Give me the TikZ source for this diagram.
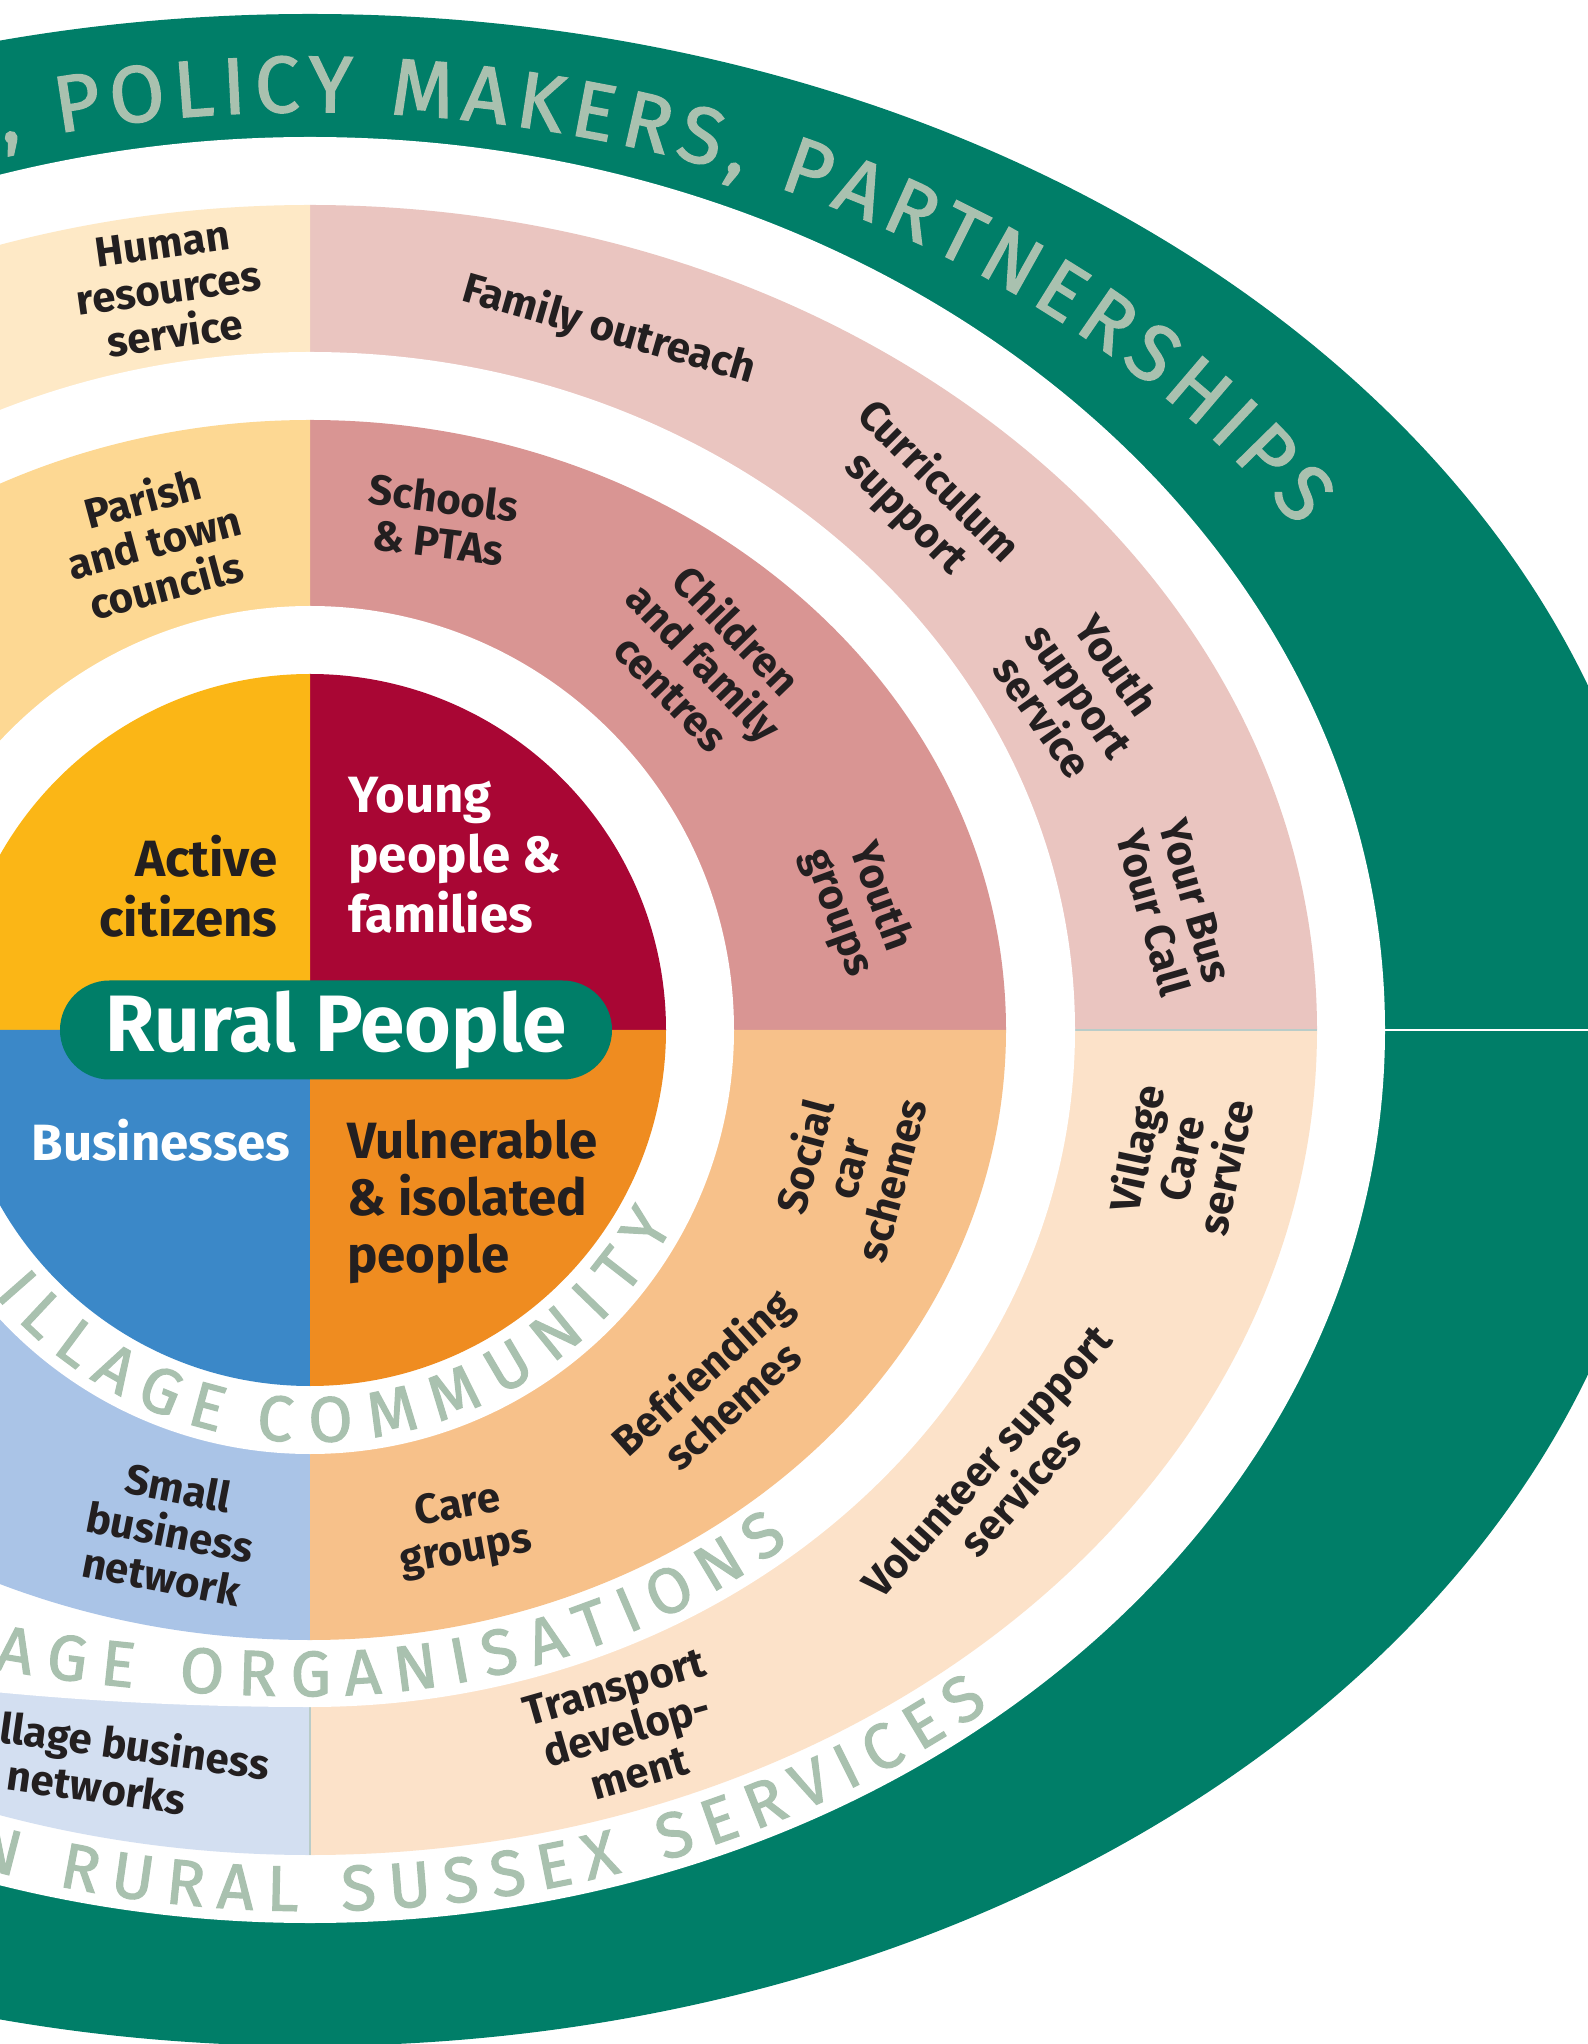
\documentclass[tikz,border=0pt]{standalone}
\usepackage{fontspec}
\setmainfont{Fira Sans}
\newfontfamily\curvefont{Fira Sans}[FakeBold=1.8]
\usetikzlibrary{decorations.text}

\definecolor{rpgreen}{HTML}{007E68}
\definecolor{sage}{HTML}{A9C1AF}
\definecolor{yel}{HTML}{FBB616}
\definecolor{crim}{HTML}{A90634}
\definecolor{blu}{HTML}{3B88C8}
\definecolor{ora}{HTML}{EF8C20}
\definecolor{ptl}{HTML}{FDD893}
\definecolor{ptr}{HTML}{D99593}
\definecolor{pbr}{HTML}{F7C18A}
\definecolor{pbl}{HTML}{AAC4E7}
\definecolor{otl}{HTML}{FEE9C6}
\definecolor{otr}{HTML}{EAC5C0}
\definecolor{obr}{HTML}{FCE2C9}
\definecolor{obl}{HTML}{D3DFF1}
\definecolor{ink}{HTML}{231F20}
\definecolor{lineclr}{HTML}{B9CCC8}

\begin{document}
\begin{tikzpicture}[x=0.5pt, y=0.5pt,
  lbl/.style={font=\bfseries\fontsize{21}{22.5}\selectfont, text=ink, align=center, inner sep=0pt},
  mainlbl/.style={font=\bfseries\fontsize{25.5}{30}\selectfont, inner sep=0pt},
  pill/.style={fill=rpgreen, text=white, font=\bfseries\fontsize{40}{40}\selectfont,
    minimum width=276pt, minimum height=49.5pt, rounded corners=24.7pt, inner sep=0pt},
  divline/.style={draw=lineclr, line width=0.6pt},
  gaptext/.style={decorate, decoration={text along path, text align={fit to path},
    text={|\curvefont\fontsize{32}{32}\selectfont\color{sage}|#1}}},
  ringtext/.style={decorate, decoration={text along path, text align={fit to path},
    text={|\curvefont\fontsize{40}{40}\selectfont\color{sage}|#1}}}]

\path[use as bounding box, fill=white] (-310,-1014) rectangle (1278,1030);
\clip (-310,-1014) rectangle (1278,1030);

% outer green ring
\fill[rpgreen] (0,0) ellipse [x radius=1358, y radius=1016];
\fill[white] (0,0) ellipse [x radius=1075, y radius=893];

% ring 3
\fill[otr] (0,0) -- (1007,0) arc[start angle=0,end angle=90,x radius=1007,y radius=825] -- cycle;
\fill[otl] (0,0) -- (0,825) arc[start angle=90,end angle=180,x radius=1007,y radius=825] -- cycle;
\fill[obl] (0,0) -- (-1007,0) arc[start angle=180,end angle=270,x radius=1007,y radius=825] -- cycle;
\fill[obr] (0,0) -- (0,-825) arc[start angle=270,end angle=360,x radius=1007,y radius=825] -- cycle;
\draw[divline] (0,-677) -- (0,-825);
\draw[divline] (765,0) -- (1007,0);

% white gap 2
\fill[white] (0,0) -- (765,0) arc[start angle=0,end angle=180,x radius=765,y radius=678] -- cycle;
\fill[white] (0,0) -- (0,-677) arc[start angle=270,end angle=360,x radius=765,y radius=677] -- cycle;
\fill[white] (0,0) -- (-1500,0) arc[start angle=180,end angle=270,x radius=1500,y radius=677] -- cycle;

% ring 2
\fill[ptr] (0,0) -- (696,0) arc[start angle=0,end angle=90,x radius=696,y radius=610] -- cycle;
\fill[ptl] (0,0) -- (0,610) arc[start angle=90,end angle=180,x radius=696,y radius=610] -- cycle;
\fill[pbl] (0,0) -- (-740,0) arc[start angle=180,end angle=270,x radius=740,y radius=610] -- cycle;
\fill[pbr] (0,0) -- (0,-610) arc[start angle=270,end angle=360,x radius=696,y radius=610] -- cycle;

% white gap 1
\fill[white] (0,0) circle[radius=424];

% inner circle
\fill[crim] (0,0) -- (356,0) arc[start angle=0,end angle=90,radius=356] -- cycle;
\fill[yel] (0,0) -- (0,356) arc[start angle=90,end angle=180,radius=356] -- cycle;
\fill[blu] (0,0) -- (-356,0) arc[start angle=180,end angle=270,radius=356] -- cycle;
\fill[ora] (0,0) -- (0,-356) arc[start angle=270,end angle=360,radius=356] -- cycle;

% white line across the green ring
\draw[white, line width=0.75pt] (1075,0) -- (1400,0);

% curved texts
\path[gaptext={ILLAGE}] (220:412) arc[start angle=220, end angle=257.2, radius=412];
\path[gaptext={COMMUNITY}] (262.4:412) arc[start angle=262.4, end angle=331.8, radius=412];
\path[gaptext={AGE ORGANISATIONS}] (253.6:1119 and 666)
  arc[start angle=253.6, end angle=270, x radius=1119, y radius=666]
  arc[start angle=270, end angle=309.6, x radius=752, y radius=666];
\path[gaptext={N RURAL SUSSEX SERVICES}] (251.5:1063 and 881)
  arc[start angle=251.5, end angle=309.7, x radius=1063, y radius=881];
\path[ringtext={, POLICY MAKERS, PARTNERSHIPS}] (105.1:1180 and 918)
  arc[start angle=105.1, end angle=33.2, x radius=1180, y radius=918];

% centre labels
\node[mainlbl, text=ink, align=right, anchor=east] (ac) at (-32,144) {Active\\citizens};
\node[mainlbl, text=white, align=left, anchor=west] (yp) at (38,175) {Young\\people \&\\families};
\node[mainlbl, text=white] (bu) at (-149,-110) {Businesses};
\node[mainlbl, text=ink, align=left, anchor=west, font=\bfseries\fontsize{25.5}{28.5}\selectfont] (vi) at (37,-172) {Vulnerable\\\& isolated\\people};
\node[pill] (rp) at (26,0) {Rural People};

% ring 2 labels
\node[lbl, rotate=15] (pt) at (-156,489) {Parish\\and town\\councils};
\node[lbl, rotate=-7] (sp) at (131,510) {Schools\\\& PTAs};
\node[lbl, rotate=-46] (cf) at (395,369) {Children\\and family\\centres};
\node[lbl, rotate=-70] (yg) at (548,125) {Youth\\groups};
\node[lbl, rotate=75] (sc) at (537,-138) {Social\\car\\schemes};
\node[lbl, rotate=42] (bs) at (406,-358) {Befriending\\schemes};
\node[lbl, rotate=10] (cg) at (152,-500) {Care\\groups};
\node[lbl, rotate=-11] (sb) at (-140,-502) {Small\\business\\network};

% ring 3 labels
\node[lbl, rotate=8] (hr) at (-141,741) {Human\\resources\\service};
\node[lbl, rotate=-16] (fo) at (299,700) {Family outreach};
\node[lbl, rotate=-45] (cs) at (612,532) {Curriculum\\support};
\node[lbl, rotate=-55] (ys) at (770,339) {Youth\\support\\service};
\node[lbl, rotate=-74] (yb) at (864,123) {Your Bus\\Your Call};
\node[lbl, rotate=78] (vc) at (870,-128) {Village\\Care\\service};
\node[lbl, rotate=48] (vs) at (693,-446) {Volunteer support\\services};
\node[lbl, rotate=16] (td) at (317,-700) {Transport\\develop-\\ment};
\node[lbl, rotate=-8, anchor=base west] (vb) at (-312,-712) {llage business};
\node[lbl, rotate=-8] (nw) at (-213,-757) {networks};
\end{tikzpicture}
\end{document}
